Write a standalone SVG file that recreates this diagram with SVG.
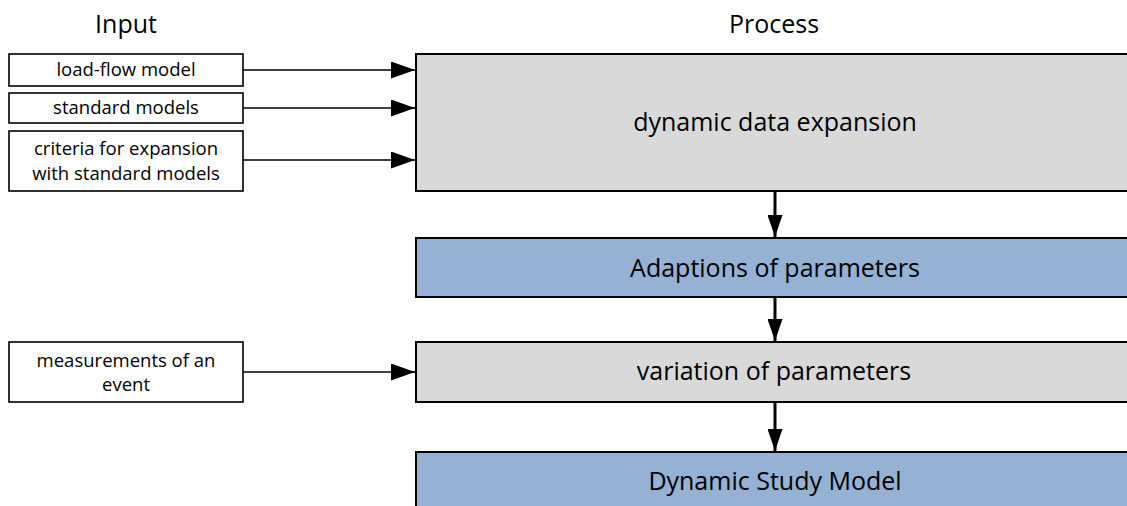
<svg xmlns="http://www.w3.org/2000/svg" width="1127" height="506" viewBox="0 0 1127 506">
<style>
text{font-family:"Open Sans","Liberation Sans",sans-serif;fill:#000;text-anchor:middle}
.t{font-size:25px}
.s{font-size:18.5px}
.in{fill:#fff;stroke:#000;stroke-width:1.6}
.gray{fill:#d9d9d9;stroke:#000;stroke-width:2}
.blue{fill:#95b1d3;stroke:#000;stroke-width:2}
.h{stroke:#000;stroke-width:1.6;fill:none}
.v{stroke:#000;stroke-width:3;fill:none}
</style>
<defs>
<marker id="ah" markerUnits="userSpaceOnUse" markerWidth="24" markerHeight="17" refX="24" refY="8.5" orient="auto" viewBox="0 0 24 17"><path d="M0,0 L24,8.5 L0,17 z" fill="#000"/></marker>
<marker id="av" markerUnits="userSpaceOnUse" markerWidth="22" markerHeight="15" refX="22" refY="7.5" orient="auto" viewBox="0 0 22 15"><path d="M0,0 L22,7.5 L0,15 z" fill="#000"/></marker>
</defs>
<rect width="1127" height="506" fill="#fff"/>
<g id="title-input"><text class="t" x="126" y="33">Input</text></g>
<g id="title-process"><text class="t" x="774" y="33">Process</text></g>
<g id="n-loadflow"><rect class="in" x="9" y="54" width="234" height="32"/><text class="s" x="126" y="76">load-flow model</text></g>
<g id="n-standard"><rect class="in" x="9" y="93" width="234" height="30"/><text class="s" x="126" y="114">standard models</text></g>
<g id="n-criteria"><rect class="in" x="9" y="131" width="234" height="60"/><text class="s" x="126" y="155">criteria for expansion</text><text class="s" x="126" y="180">with standard models</text></g>
<g id="n-measure"><rect class="in" x="9" y="342" width="234" height="60"/><text class="s" x="126" y="367">measurements of an</text><text class="s" x="126" y="391">event</text></g>
<g id="n-expansion"><rect class="gray" x="416" y="54" width="730" height="137"/><text class="t" x="775" y="131">dynamic data expansion</text></g>
<g id="n-adaptions"><rect class="blue" x="416" y="238" width="730" height="59"/><text class="t" x="775" y="277">Adaptions of parameters</text></g>
<g id="n-variation"><rect class="gray" x="416" y="342" width="730" height="60"/><text class="t" x="774" y="380">variation of parameters</text></g>
<g id="n-model"><rect class="blue" x="416" y="452" width="730" height="70"/><text class="t" x="775" y="490">Dynamic Study Model</text></g>
<g id="connectors">
<line class="h" x1="243" y1="70" x2="415" y2="70" marker-end="url(#ah)"/>
<line class="h" x1="243" y1="108" x2="415" y2="108" marker-end="url(#ah)"/>
<line class="h" x1="243" y1="160" x2="415" y2="160" marker-end="url(#ah)"/>
<line class="h" x1="243" y1="372" x2="415" y2="372" marker-end="url(#ah)"/>
<line class="v" x1="775" y1="191" x2="775" y2="237" marker-end="url(#av)"/>
<line class="v" x1="775" y1="297" x2="775" y2="341" marker-end="url(#av)"/>
<line class="v" x1="775" y1="402" x2="775" y2="451" marker-end="url(#av)"/>
</g>
</svg>
